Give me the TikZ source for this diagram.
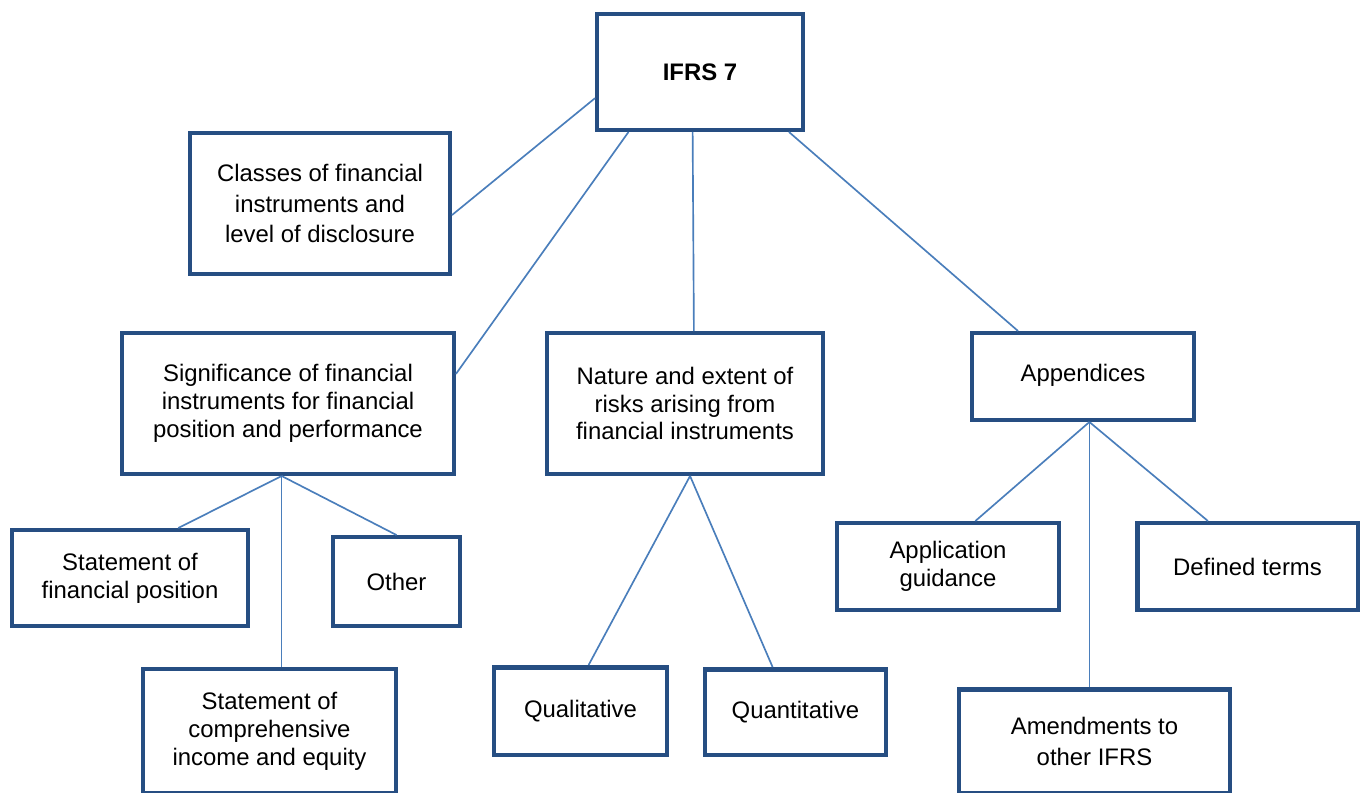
\documentclass[tikz,border=0pt]{standalone}
\usepackage{fontspec}
\setmainfont{Liberation Sans}
\definecolor{boxblue}{RGB}{38,78,130}
\definecolor{lineblue}{RGB}{74,126,187}
\begin{document}
\begin{tikzpicture}[auto,
            main node/.style={rectangle,draw=boxblue,line width=2.55pt,align=center,
              inner sep=2pt,font=\fontsize{13.6}{17.6}\selectfont},
            tight node/.style={main node,font=\fontsize{13.6}{15.9}\selectfont}]
        \useasboundingbox (0,0) rectangle (27.24,-15.84);

        % Define vertices
        \node[main node,minimum width=4.11cm,minimum height=2.31cm,font=\fontsize{13.6}{17.6}\selectfont\bfseries] (ifrs) at (14.0,-1.44) {IFRS 7};
        \node[main node,minimum width=5.19cm,minimum height=2.81cm] (classes) at (6.4,-4.07) {Classes of financial\\instruments and\\level of disclosure};
        \node[tight node,minimum width=6.63cm,minimum height=2.81cm] (signif) at (5.76,-8.07) {Significance of financial\\instruments for financial\\position and performance};
        \node[tight node,minimum width=5.51cm,minimum height=2.81cm] (nature) at (13.7,-8.07) {Nature and extent of\\risks arising from\\financial instruments};
        \node[main node,minimum width=4.43cm,minimum height=1.73cm,text depth=0.8ex] (append) at (21.66,-7.53) {Appendices};
        \node[tight node,minimum width=4.71cm,minimum height=1.91cm] (sfp) at (2.6,-11.56) {Statement of\\financial position};
        \node[main node,minimum width=2.53cm,minimum height=1.77cm] (other) at (7.93,-11.63) {Other};
        \node[tight node,minimum width=5.05cm,minimum height=2.47cm] (sci) at (5.39,-14.62) {Statement of\\comprehensive\\income and equity};
        \node[main node,minimum width=3.45cm,minimum height=1.75cm] (qual) at (11.61,-14.22) {Qualitative};
        \node[main node,minimum width=3.61cm,minimum height=1.71cm] (quant) at (15.91,-14.24) {Quantitative};
        \node[tight node,minimum width=4.43cm,minimum height=1.73cm] (guide) at (18.96,-11.33) {Application\\guidance};
        \node[main node,minimum width=4.41cm,minimum height=1.73cm] (terms) at (24.95,-11.33) {Defined terms};
        \node[main node,minimum width=5.41cm,minimum height=2.07cm] (amend) at (21.89,-14.82) {Amendments to\\other IFRS};

        % Draw edges
        \path[draw=lineblue,line width=0.95pt]
            (ifrs.194) edge (classes.-5)
            (ifrs.220) edge (signif.10)
            (ifrs.263.5) edge (nature.83.7)
            (ifrs.-34.7) edge (append.145)
            (signif.265) edge (sfp.46)
            (signif.265) edge (other.north)
            (signif.265) edge (signif.265 |- sci.north)
            (nature.274) edge (qual.80.7)
            (nature.274) edge (quant.117.6)
            (append.278) edge (guide.59)
            (append.278) edge (terms.131)
            (append.278) edge (append.278 |- amend.north);

        \end{tikzpicture}
\end{document}
